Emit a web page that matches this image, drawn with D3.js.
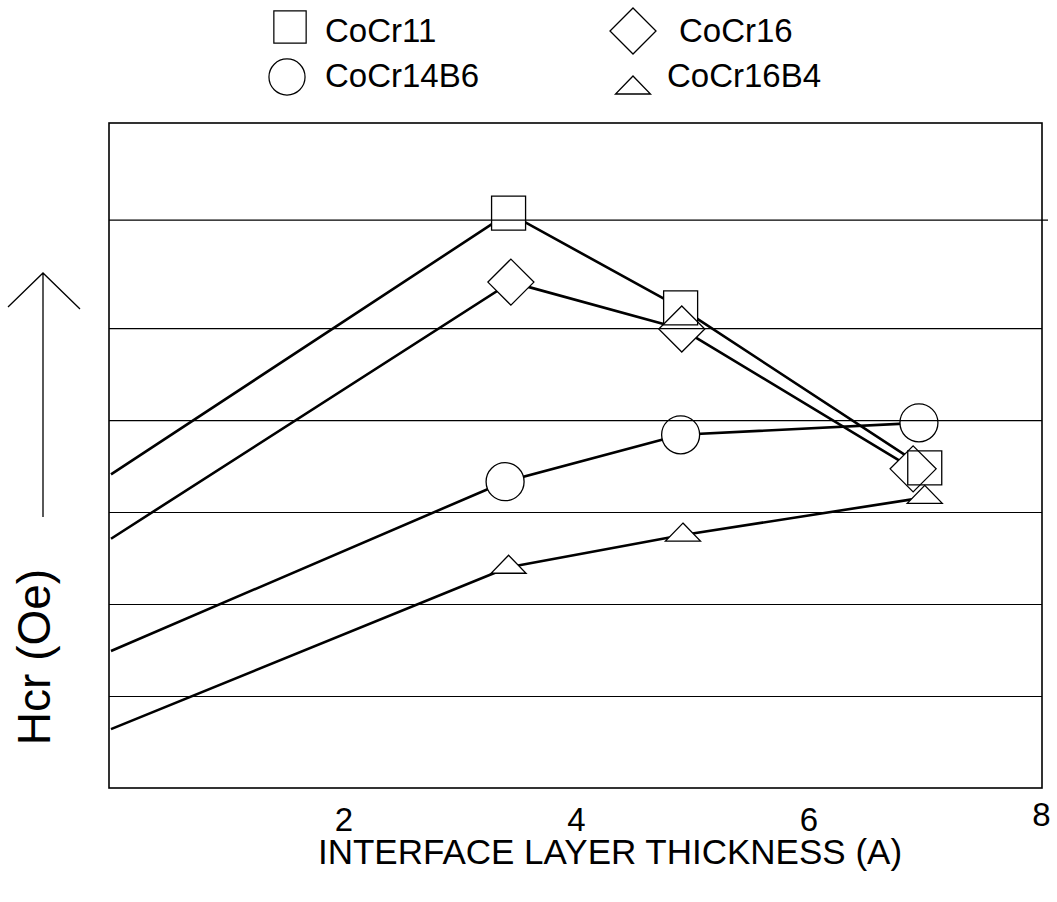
<!DOCTYPE html>
<html>
<head>
<meta charset="utf-8">
<script src="https://cdn.jsdelivr.net/npm/d3@7"></script>
<style>
  html, body { margin: 0; padding: 0; background: #fff; }
  svg { display: block; }
  text { font-family: "Liberation Sans", Arial, sans-serif; fill: #000; }
</style>
</head>
<body>
<svg id="chart" width="1057" height="902"></svg>
<script>
// ---------------- data ----------------
const seriesNames = ["CoCr11", "CoCr16", "CoCr14B6", "CoCr16B4"];
const seriesShapes = ["square", "diamond", "circle", "triangle"];
const xCoCr11   = [0, 3.42, 4.90, 7.00];
const yCoCr11   = [3.41, 6.25, 5.22, 3.48];
const xCoCr16   = [0, 3.44, 4.91, 6.90];
const yCoCr16   = [2.71, 5.50, 4.99, 3.47];
const xCoCr14B6 = [0, 3.39, 4.90, 6.95];
const yCoCr14B6 = [1.49, 3.33, 3.84, 3.97];
const xCoCr16B4 = [0, 3.42, 4.92, 7.00];
const yCoCr16B4 = [0.64, 2.40, 2.75, 3.16];
const xTicks = [2, 4, 6, 8];
const gridValues = [1, 2, 3, 4, 5, 6.18];
const xDomain = [0, 8];
const yDomain = [0, 7.23];

const series = [
  { name: seriesNames[0], shape: seriesShapes[0], xs: xCoCr11,   ys: yCoCr11 },
  { name: seriesNames[1], shape: seriesShapes[1], xs: xCoCr16,   ys: yCoCr16 },
  { name: seriesNames[2], shape: seriesShapes[2], xs: xCoCr14B6, ys: yCoCr14B6 },
  { name: seriesNames[3], shape: seriesShapes[3], xs: xCoCr16B4, ys: yCoCr16B4 }
];

// ---------------- layout ----------------
const plot = { left: 109, right: 1042, top: 123, bottom: 788 };
const svg = d3.select("#chart");

const x = d3.scaleLinear().domain(xDomain).range([111, 1041]);
const y = d3.scaleLinear().domain(yDomain).range([plot.bottom, plot.top]);

// marker shape paths (centered at 0,0)
function shapePath(shape) {
  switch (shape) {
    case "square":   return "M-17,-17H17V17H-17Z";
    case "diamond":  return "M0,-23L23,0L0,23L-23,0Z";
    case "circle":   return "M19,0A19,19 0 1,1 -19,0A19,19 0 1,1 19,0Z";
    case "triangle": return "M0,-12L17.5,6L-17.5,6Z";
  }
}

const line = d3.line().x(d => x(d[0])).y(d => y(d[1]));

// series lines
const gLines = svg.append("g");
series.forEach(s => {
  const pts = s.xs.map((v, i) => [v, s.ys[i]]);
  gLines.append("path")
    .attr("d", line(pts))
    .attr("fill", "none")
    .attr("stroke", "#000")
    .attr("stroke-width", 2.6)
    .attr("stroke-linejoin", "round");
});

// markers: white fill layer (skip x=0 points)
const gFill = svg.append("g");
series.forEach(s => {
  s.xs.forEach((v, i) => {
    if (v === 0) return;
    gFill.append("path")
      .attr("d", shapePath(s.shape))
      .attr("transform", `translate(${x(v)},${y(s.ys[i])})`)
      .attr("fill", "#fff")
      .attr("stroke", "none");
  });
});

// gridlines (visible through markers)
const yAxisGrid = d3.axisLeft(y).tickValues(gridValues).tickSize(-(plot.right - plot.left)).tickFormat("");
const gGrid = svg.append("g")
  .attr("transform", `translate(${plot.left},0)`)
  .call(yAxisGrid);
gGrid.select(".domain").remove();
gGrid.selectAll(".tick line")
  .attr("stroke", "#000").attr("stroke-width", 1.1)
  .attr("x2", (d, i) => i === gridValues.length - 1 ? (plot.right - plot.left + 6) : (plot.right - plot.left));

// marker outlines
const gMark = svg.append("g");
series.forEach(s => {
  s.xs.forEach((v, i) => {
    if (v === 0) return;
    gMark.append("path")
      .attr("d", shapePath(s.shape))
      .attr("transform", `translate(${x(v)},${y(s.ys[i])})`)
      .attr("fill", "none")
      .attr("stroke", "#000")
      .attr("stroke-width", 1.3);
  });
});

// frame
svg.append("rect")
  .attr("x", plot.left).attr("y", plot.top)
  .attr("width", plot.right - plot.left).attr("height", plot.bottom - plot.top)
  .attr("fill", "none").attr("stroke", "#000").attr("stroke-width", 1.6);

// x axis tick labels
const xAxis = d3.axisBottom(x).tickValues(xTicks).tickSize(0).tickFormat(d3.format("d"));
const gX = svg.append("g")
  .attr("transform", `translate(0,${plot.bottom})`)
  .call(xAxis);
gX.select(".domain").remove();
gX.selectAll(".tick text")
  .attr("font-size", 33)
  .attr("font-family", "Liberation Sans, Arial, sans-serif")
  .attr("fill", "#000")
  .attr("dy", 0)
  .attr("y", d => d === 8 ? 38 : 43);

// x axis title
svg.append("text")
  .attr("x", 610).attr("y", 864)
  .attr("text-anchor", "middle")
  .attr("font-size", 35)
  .text("INTERFACE LAYER THICKNESS (A)");

// y axis title and arrow
svg.append("text")
  .attr("transform", "translate(50,657) rotate(-90)")
  .attr("text-anchor", "middle")
  .attr("font-size", 46)
  .text("Hcr (Oe)");

svg.append("path")
  .attr("d", "M43,517V273M8,307L43,273L80,309")
  .attr("fill", "none").attr("stroke", "#000").attr("stroke-width", 1.3);

// legend
const legendPos = [
  { mx: 290, my: 27, tx: 325, ty: 42 },
  { mx: 633, my: 31, tx: 679, ty: 42 },
  { mx: 287, my: 77, tx: 325, ty: 87 },
  { mx: 633, my: 88, tx: 667, ty: 87 }
];
const gLeg = svg.append("g");
series.forEach((s, i) => {
  const p = legendPos[i];
  gLeg.append("path")
    .attr("d", shapePath(s.shape))
    .attr("transform", `translate(${p.mx},${p.my})` + (s.shape === "square" || s.shape === "circle" ? " scale(0.95)" : ""))
    .attr("fill", "#fff").attr("stroke", "#000").attr("stroke-width", 1.3);
  gLeg.append("text")
    .attr("x", p.tx).attr("y", p.ty)
    .attr("font-size", 33)
    .text(s.name);
});
</script>
</body>
</html>
